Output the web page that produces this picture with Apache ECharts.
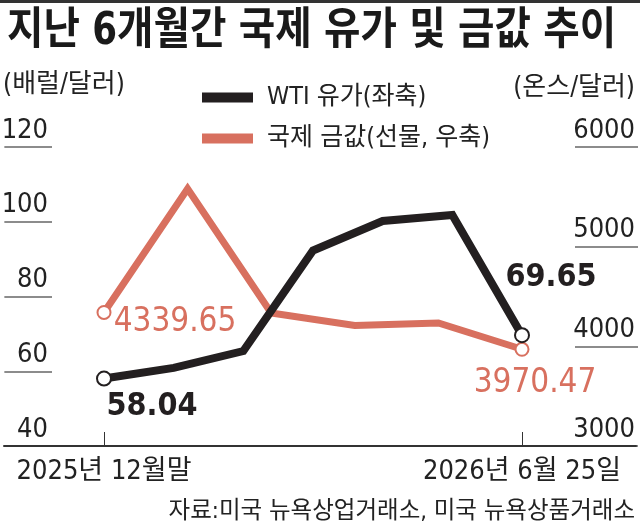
<!DOCTYPE html>
<html>
<head>
<meta charset="utf-8">
<script src="https://cdn.jsdelivr.net/npm/echarts@6.0.0/dist/echarts.min.js"></script>
<style>
  html, body { margin: 0; padding: 0; background: #fff; }
  #chart { width: 640px; height: 529px; }
</style>
</head>
<body>
<div id="chart"></div>
<script>
// data
const wtiDates = ["2025년 12월말", "1월", "2월", "3월", "4월", "5월", "2026년 6월 25일"];
const wtiPrice = [58.04, 60.9, 65.4, 92.3, 100.2, 101.8, 69.65];
const goldDates = ["2025년 12월말", "1월", "2월", "3월", "4월", "2026년 6월 25일"];
const goldPrice = [4339.65, 5580, 4335, 4210, 4235, 3970.47];
const leftTicks = { min: 40, max: 120, interval: 20 };
const rightTicks = { min: 3000, max: 6000, interval: 1000 };

const FONT = '"DejaVu Sans Condensed", "Noto Sans CJK KR", sans-serif';
const BLACK = "#231f20";
const SALMON = "#d8705f";

const chart = echarts.init(document.getElementById("chart"));

// first and last points get a hollow circle and a value label
function markEnds(values, labels) {
  return values.map((v, i) => {
    if (i === 0) return { value: v, label: labels[0] };
    if (i === values.length - 1) return { value: v, label: labels[1] };
    return { value: v, symbol: "none" };
  });
}

const endLabel = (color, weight, size, offset) => ({
  show: true,
  position: "inside",
  offset: offset,
  color: color,
  fontFamily: FONT,
  fontSize: size,
  fontWeight: weight,
  formatter: (p) => p.value.toFixed(2),
});

const firstLast = (i, len) => i === 0 || i === len - 1;

const tickLabel = {
  inside: true,
  verticalAlign: "bottom",
  padding: [0, 0, 3, 0],
  color: "#222",
  fontFamily: FONT,
  fontSize: 27,
  formatter: (v) => String(v),
};

const option = {
  animation: false,
  grid: [
    { left: 104, right: 118, top: 147, bottom: 83 }, // plot
    { left: 3, width: 49, top: 147, bottom: 83 }, // left labels
    { left: 575, width: 63, top: 147, bottom: 83 }, // right labels
    { left: 4, right: 4, top: 147, bottom: 83 }, // base line
  ],
  legend: {
    orient: "vertical",
    left: 202,
    top: 85,
    padding: 0,
    itemWidth: 51,
    itemHeight: 10,
    itemGap: 16,
    icon: "rect",
    data: ["WTI 유가(좌축)", "국제 금값(선물, 우축)"],
    textStyle: {
      fontFamily: FONT,
      fontSize: 25,
      color: "#222",
      padding: [0, 0, 0, 9],
    },
  },
  xAxis: [
    {
      type: "category",
      gridIndex: 0,
      data: wtiDates,
      boundaryGap: false,
      axisLine: { show: false },
      axisTick: {
        show: true,
        inside: true,
        length: 14,
        interval: (i) => firstLast(i, wtiDates.length),
        lineStyle: { color: "#333", width: 1 },
      },
      axisLabel: {
        interval: (i) => firstLast(i, wtiDates.length),
        margin: 12,
        color: "#222",
        fontFamily: FONT,
        fontSize: 27,
      },
    },
    {
      type: "category",
      gridIndex: 0,
      data: goldDates,
      boundaryGap: false,
      show: false,
    },
    { type: "value", gridIndex: 1, show: false },
    { type: "value", gridIndex: 2, show: false },
    {
      type: "value",
      gridIndex: 3,
      min: 0,
      max: 1,
      axisLine: { show: true, onZero: false, lineStyle: { color: "#333", width: 2 } },
      axisTick: { show: false },
      axisLabel: { show: false },
      splitLine: { show: false },
    },
  ],
  yAxis: [
    { type: "value", gridIndex: 0, ...leftTicks, show: false },
    { type: "value", gridIndex: 0, ...rightTicks, show: false },
    {
      type: "value",
      gridIndex: 1,
      ...leftTicks,
      position: "right",
      axisLine: { show: false },
      axisTick: { show: false },
      splitLine: { show: true, lineStyle: { color: "#666", width: 1.5 } },
      axisLabel: { ...tickLabel, margin: 4 },
    },
    {
      type: "value",
      gridIndex: 2,
      ...rightTicks,
      position: "right",
      axisLine: { show: false },
      axisTick: { show: false },
      splitLine: { show: true, lineStyle: { color: "#666", width: 1.5 } },
      axisLabel: { ...tickLabel, margin: 3 },
    },
    { type: "value", gridIndex: 3, min: 0, max: 1, show: false },
  ],
  series: [
    {
      name: "국제 금값(선물, 우축)",
      type: "line",
      xAxisIndex: 1,
      yAxisIndex: 1,
      color: SALMON,
      symbol: "emptyCircle",
      symbolSize: 13,
      showAllSymbol: true,
      lineStyle: { width: 7, color: SALMON, join: "miter" },
      itemStyle: { color: SALMON, borderWidth: 3 },
      data: markEnds(goldPrice, [
        endLabel(SALMON, "normal", 33, [71, 10]),
        endLabel(SALMON, "normal", 33, [13, 34]),
      ]),
      z: 2,
    },
    {
      name: "WTI 유가(좌축)",
      type: "line",
      xAxisIndex: 0,
      yAxisIndex: 0,
      color: BLACK,
      symbol: "emptyCircle",
      symbolSize: 14,
      showAllSymbol: true,
      lineStyle: { width: 8, color: BLACK, join: "miter" },
      itemStyle: { color: BLACK, borderWidth: 3 },
      data: markEnds(wtiPrice, [
        endLabel(BLACK, "bold", 32, [48, 28]),
        endLabel(BLACK, "bold", 32, [29, -57]),
      ]),
      z: 3,
    },
  ],
  graphic: [
    { type: "rect", shape: { x: 0, y: 0, width: 640, height: 3 }, style: { fill: "#333" } },
    {
      type: "text",
      x: 7,
      y: 33,
      scaleX: 0.9,
      style: {
        text: "지난 6개월간 국제 유가 및 금값 추이",
        font: "bold 44px " + FONT,
        fill: "#1a1a1a",
        verticalAlign: "middle",
      },
    },
    {
      type: "text",
      x: 3,
      y: 85,
      style: { text: "(배럴/달러)", font: "26px " + FONT, fill: "#222", verticalAlign: "middle" },
    },
    {
      type: "text",
      x: 635,
      y: 88,
      style: { text: "(온스/달러)", font: "26px " + FONT, fill: "#222", align: "right", verticalAlign: "middle" },
    },
    {
      type: "text",
      x: 635,
      y: 512,
      style: {
        text: "자료:미국 뉴욕상업거래소, 미국 뉴욕상품거래소",
        font: "23.5px " + FONT,
        fill: "#222",
        align: "right",
        verticalAlign: "middle",
      },
    },
  ],
};

chart.setOption(option);
</script>
</body>
</html>
